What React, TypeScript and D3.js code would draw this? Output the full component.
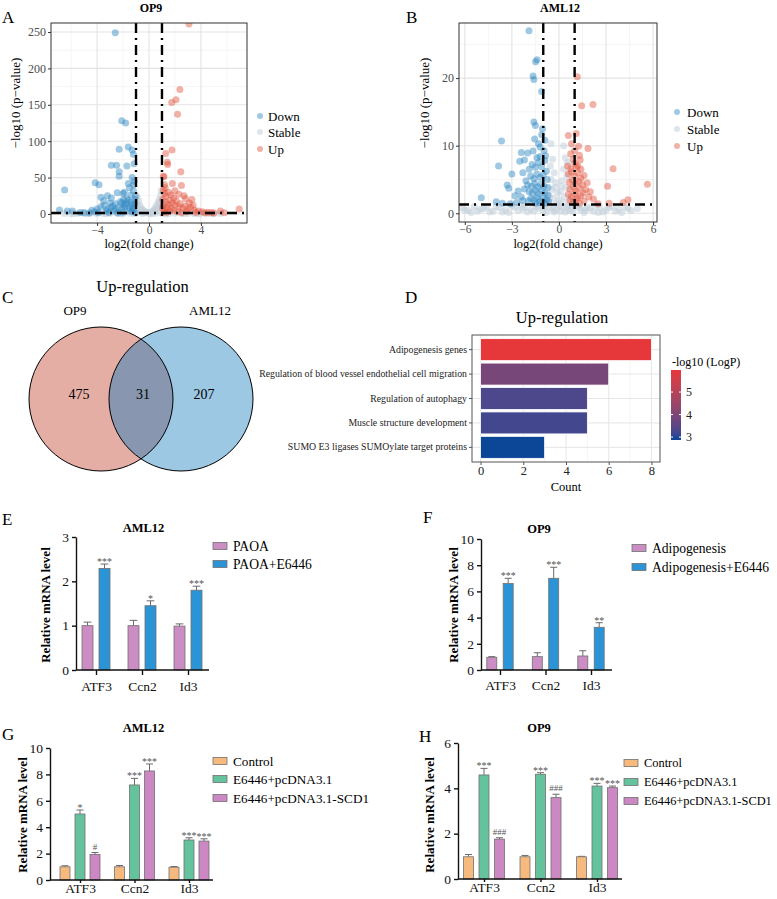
import React, { useEffect, useRef } from "react";
import * as d3 from "d3";

const FONT = "'Liberation Serif', 'Times New Roman', Times, serif";

// A: OP9 volcano points, [log2FC, -log10 p]
const op9Down = [
  [-2.6, 249], [-2.1, 128], [-1.8, 125], [-1.6, 92], [-2.3, 89], [-1.3, 88], [-1.2, 82], [-2.9, 67], [-2.5, 67],
  [-1.7, 66], [-1.15, 69], [-2.3, 58], [-2.3, 52], [-4.15, 43], [-3.85, 40], [-1.6, 42], [-1.2, 40], [-6.5, 33],
  [-2.45, 29], [-2.0, 28], [-3.2, 25], [-3.7, 23], [-2.9, 22], [-1.05, 24], [-1.2, 32], [-1.4, 26], [-1.7, 21],
  [-2.2, 17], [-3.0, 15], [-3.5, 18], [-2.6, 14], [-1.9, 12], [-3.7, 10], [-3.45, 12], [-2.95, 9], [-2.6, 6],
  [-2.1, 15], [-1.85, 10], [-1.6, 18], [-1.5, 8], [-1.35, 12], [-1.2, 6], [-1.1, 14], [-3.2, 6], [-4.2, 3],
  [-2.35, 9], [-1.95, 20], [-2.7, 4], [-1.3, 3], [-1.6, 4], [-2.0, 2.5], [-2.4, 1.5], [-3.9, 2], [-4.6, 1.5],
  [-6.9, 5.5], [-6.3, 4], [-5.9, 4], [-5.3, 2], [-5.0, 2], [-4.4, 5], [-4.0, 7], [-3.3, 4], [-2.8, 11], [-1.4, 16],
  [-1.1, 20], [-1.25, 9], [-1.75, 14], [-2.1, 7], [-3.1, 2], [-1.05, 2], [-1.9, 30], [-1.5, 36], [-1.15, 45], [-1.3, 50],
];
const op9Stable = [
  [-0.9, 24], [-0.8, 18], [-0.7, 12], [-0.6, 8], [-0.5, 6], [-0.4, 4], [-0.3, 3], [-0.2, 2], [-0.1, 1.5], [0, 1],
  [0.1, 1.5], [0.2, 2.5], [0.3, 4], [0.4, 6], [0.5, 9], [0.6, 12], [0.7, 16], [0.8, 20], [0.9, 26], [0.95, 32],
  [0.85, 14], [0.75, 9], [0.6, 5], [-0.85, 10], [-0.65, 5], [-0.95, 15], [0.5, 3], [-0.5, 2],
  [-6.5, 0.6], [-6, 0.4], [-5.5, 0.8], [-5, 0.5], [-4.5, 1], [-4, 0.3], [-3.5, 0.8], [-3, 0.5], [-2.5, 1], [-2, 0.4],
  [-1.5, 0.9], [-1, 0.5], [-0.5, 0.3], [0.5, 0.5], [1, 0.8], [1.5, 0.3], [2, 1], [2.5, 0.5], [3, 0.8], [3.5, 0.4],
  [4, 1], [4.5, 0.6], [5, 0.3], [5.5, 0.7], [-5.8, 0.2], [-4.8, 0.1], [-3.3, 0.2], [-2.2, 0.1], [-1.2, 0.2], [0.2, 0.1],
  [1.3, 0.1], [2.7, 0.2], [3.8, 0.1], [4.8, 0.2],
];
const op9Up = [
  [3.08, 261], [2.38, 171], [2.08, 157], [1.75, 153], [2.2, 137], [1.77, 88], [1.28, 83], [1.41, 71], [1.44, 68],
  [2.45, 58], [1.1, 52], [1.15, 51], [1.8, 42], [2.5, 39], [3.3, 20], [2.8, 21], [6.95, 7], [5.5, 4], [1.1, 33],
  [1.2, 28], [1.3, 24], [1.5, 30], [1.6, 19], [1.7, 26], [1.8, 15], [1.9, 22], [2.0, 12], [2.1, 18], [2.3, 10],
  [2.4, 14], [2.6, 8], [2.8, 11], [3.0, 6], [3.2, 9], [3.5, 5], [3.8, 4], [4.1, 3], [4.5, 2.5], [4.8, 2], [5.0, 1.5],
  [1.1, 12], [1.2, 6], [1.4, 9], [1.6, 4], [1.9, 5], [2.2, 3], [2.5, 2], [1.3, 16], [1.5, 13], [1.7, 8], [2.0, 32],
  [1.2, 40], [2.3, 27], [2.7, 25], [3.1, 15], [3.4, 12], [1.05, 20], [1.15, 3], [1.35, 2], [2.9, 3], [3.6, 2],
  [4.3, 1.5], [5.8, 1.8], [1.25, 36], [1.05, 8],
];

// B: AML12 volcano points
const amlDown = [
  [-1.91, 27], [-1.49, 22.4], [-1.4, 22.7], [-1.65, 20.3], [-1.6, 19.8], [-1.1, 18], [-1.6, 13.5], [-1.5, 13],
  [-1.1, 11.6], [-3.66, 10.7], [-2.4, 9], [-2.0, 8.9], [-1.65, 9.2], [-1.2, 8.4], [-3.85, 7.0], [-2.5, 7.7],
  [-2.2, 7.9], [-3.0, 5.8], [-2.3, 6.0], [-3.3, 4.2], [-3.2, 3.7], [-2.1, 4.8], [-4.95, 2.3], [-4.0, 1.7],
  [-3.1, 1.4], [-2.4, 2.4], [-2.3, 1.9], [-1.9, 6.5], [-1.7, 7.2], [-1.5, 6.8], [-1.3, 7.5], [-1.1, 6.9],
  [-0.9, 7.8], [-0.8, 6.2], [-1.8, 5.5], [-1.6, 5.1], [-1.4, 5.8], [-1.2, 5.3], [-1.0, 5.7], [-0.75, 5.0],
  [-2.0, 4.2], [-1.75, 4.0], [-1.55, 4.4], [-1.35, 3.9], [-1.15, 4.3], [-0.95, 4.0], [-0.7, 3.8], [-1.9, 3.2],
  [-1.7, 3.0], [-1.5, 3.4], [-1.3, 2.9], [-1.1, 3.3], [-0.9, 3.0], [-0.7, 2.7], [-1.8, 2.2], [-1.6, 2.0],
  [-1.4, 2.4], [-1.2, 1.9], [-1.0, 2.3], [-0.8, 2.0], [-0.65, 1.7], [-1.5, 1.5], [-1.25, 1.6], [-0.9, 1.5],
  [-1.3, 10.3], [-1.2, 9.8], [-0.95, 9.3], [-1.4, 8.2], [-0.85, 8.5], [-1.55, 11], [-1.05, 12.5], [-0.9, 10.8],
  [-2.6, 3.3], [-2.8, 2.6], [-2.2, 3.6], [-1.95, 1.8], [-3.6, 1.5], [-2.7, 1.6],
];
const amlStable = [
  [0.3, 10], [-0.5, 10.3], [-0.4, 8], [-0.3, 6], [-0.2, 4.5], [-0.1, 3], [0, 2], [0.1, 3.2], [0.2, 4.8], [0.3, 6.5],
  [0.4, 8.2], [-0.5, 5], [0.5, 5.5], [-0.45, 3.5], [0.45, 3.8], [-0.35, 2.2], [0.35, 2.4], [-0.55, 7], [0.55, 7.5],
  [-0.6, 2.5], [0.6, 1.2], [-6.2, 0.8], [-5.8, 0.4], [-5.4, 1.0], [-5.0, 0.6], [-4.6, 0.9], [-4.2, 0.3], [-3.8, 0.8],
  [-3.4, 0.5], [-3, 1.1], [-2.6, 0.4], [-2.2, 0.9], [-1.8, 0.6], [-1.4, 1.0], [-1, 0.3], [-0.6, 0.8], [-0.2, 0.5],
  [0.2, 0.9], [0.6, 0.4], [1, 1.0], [1.4, 0.5], [1.8, 0.9], [2.2, 0.3], [2.6, 0.8], [3, 0.5], [3.4, 1.0], [3.8, 0.6],
  [4.2, 0.9], [4.6, 0.4], [5, 0.7], [-5.6, 0.1], [-4.4, 0.2], [-3.2, 0.1], [-2.0, 0.2], [-0.8, 0.1], [0.4, 0.2],
  [1.6, 0.1], [2.8, 0.2], [4.0, 0.1], [-1.2, 1.2], [0, 1.1], [1.2, 1.2], [-2.4, 1.2], [2.4, 1.2], [-0.3, 0.2], [0.8, 0.6],
  [-5.2, 0.3], [-4.8, 0.7], [-4.0, 1.0], [-3.6, 0.2], [-2.8, 0.9], [-2.3, 0.6], [-1.6, 0.3], [-1.3, 0.7], [-0.9, 0.9],
  [-0.4, 0.6], [0.1, 0.3], [0.5, 0.9], [0.9, 0.2], [1.3, 0.8], [1.7, 0.5], [2.0, 0.7], [2.5, 0.1], [3.2, 0.8],
  [3.6, 0.3], [4.4, 0.7], [-0.7, 1.9], [0.7, 2.0], [-0.15, 1.4], [0.25, 1.6], [-0.25, 3.8], [0.15, 4.0], [-6.0, 0.5],
];
const amlUp = [
  [1.17, 20.2], [1.45, 15.9], [2.17, 16.1], [0.6, 11.5], [1.1, 11.8], [0.8, 10.3], [1.85, 9.6], [0.75, 8.8],
  [1.3, 8.6], [1.35, 7.9], [0.55, 7.0], [1.1, 6.9], [0.75, 6.6], [3.45, 6.6], [3.1, 4.0], [5.64, 4.3], [1.7, 3.5],
  [1.9, 2.4], [3.2, 1.5], [2.5, 1.4], [4.4, 2.0], [4.1, 1.6], [0.6, 5.8], [0.8, 6.1], [1.0, 5.5], [1.2, 6.0],
  [1.4, 5.2], [0.65, 4.6], [0.85, 4.9], [1.05, 4.4], [1.25, 4.7], [1.5, 4.2], [0.7, 3.6], [0.9, 3.9], [1.1, 3.3],
  [1.3, 3.7], [1.55, 3.0], [0.6, 2.8], [0.8, 2.5], [1.0, 2.9], [1.2, 2.3], [1.4, 2.6], [0.7, 1.9], [0.9, 1.6],
  [1.1, 2.0], [1.3, 1.5], [1.6, 1.8], [1.0, 7.4], [1.2, 7.0], [0.9, 8.0], [1.4, 6.5], [1.6, 5.6], [1.8, 4.5],
  [2.0, 3.2], [2.2, 2.1], [1.0, 9.3], [1.25, 9.9],
];

// C: Venn
const vennSets = ["OP9", "AML12"];
const vennCounts = [475, 31, 207];

// D: enrichment
const goTerms = [
  "Adipogenesis genes",
  "Regulation of blood vessel endothelial cell migration",
  "Regulation of autophagy",
  "Muscle structure development",
  "SUMO E3 ligases SUMOylate target proteins",
];
const goCount = [8, 6, 5, 5, 3];
const goLogP = [5.98, 3.9, 3.3, 3.2, 2.87];

// E-H: qPCR
const genes = ["ATF3", "Ccn2", "Id3"];
const eGroups = ["PAOA", "PAOA+E6446"];
const eMean = [[1.0, 2.29], [1.0, 1.45], [0.99, 1.8]];
const eErr = [[0.08, 0.1], [0.12, 0.11], [0.05, 0.09]];
const eSig = [["", "***"], ["", "*"], ["", "***"]];

const fGroups = ["Adipogenesis", "Adipogenesis+E6446"];
const fMean = [[0.97, 6.6], [1.02, 7.0], [1.07, 3.26]];
const fErr = [[0.05, 0.4], [0.3, 0.84], [0.4, 0.35]];
const fSig = [["", "***"], ["", "***"], ["", "**"]];

const ghGroups = ["Control", "E6446+pcDNA3.1", "E6446+pcDNA3.1-SCD1"];
const gMean = [[1.0, 5.0, 1.93], [1.0, 7.2, 8.26], [0.97, 3.03, 2.95]];
const gErr = [[0.08, 0.3, 0.15], [0.1, 0.5, 0.53], [0.05, 0.17, 0.17]];
const gSig = [["", "*", "#"], ["", "***", "***"], ["", "***", "***"]];

const hMean = [[0.98, 4.59, 1.76], [0.98, 4.62, 3.59], [0.98, 4.1, 4.03]];
const hErr = [[0.1, 0.29, 0.06], [0.06, 0.07, 0.15], [0.02, 0.12, 0.07]];
const hSig = [["", "***", "###"], ["", "***", "###"], ["", "***", "***"]];

function letter(svg, t, x, y) {
  svg.append("text").attr("x", x).attr("y", y).attr("font-size", 17).text(t);
}

function drawVolcano(svg, c) {
  const x = d3.scaleLinear().domain(c.xDomain).range([c.left, c.right]);
  const y = d3.scaleLinear().domain(c.yDomain).range([c.bottom, c.top]);
  const g = svg.append("g");
  const w = c.right - c.left, h = c.bottom - c.top;

  g.append("rect").attr("x", c.left).attr("y", c.top).attr("width", w).attr("height", h).attr("fill", "#fff");
  g.selectAll(".vmin").data(c.xMinor).join("line")
    .attr("x1", (d) => x(d)).attr("x2", (d) => x(d)).attr("y1", c.top).attr("y2", c.bottom)
    .attr("stroke", "#F2F2F2").attr("stroke-width", 0.8);
  g.selectAll(".hmin").data(c.yMinor).join("line")
    .attr("y1", (d) => y(d)).attr("y2", (d) => y(d)).attr("x1", c.left).attr("x2", c.right)
    .attr("stroke", "#F2F2F2").attr("stroke-width", 0.8);
  g.selectAll(".vmaj").data(c.xTicks).join("line")
    .attr("x1", (d) => x(d)).attr("x2", (d) => x(d)).attr("y1", c.top).attr("y2", c.bottom)
    .attr("stroke", "#E3E3E3").attr("stroke-width", 1.1);
  g.selectAll(".hmaj").data(c.yTicks).join("line")
    .attr("y1", (d) => y(d)).attr("y2", (d) => y(d)).attr("x1", c.left).attr("x2", c.right)
    .attr("stroke", "#E3E3E3").attr("stroke-width", 1.1);

  g.append("clipPath").attr("id", c.id).append("rect")
    .attr("x", c.left).attr("y", c.top).attr("width", w).attr("height", h);
  const pts = g.append("g").attr("clip-path", `url(#${c.id})`);
  const layers = [
    [c.stable, "#C3CFDA", 0.55],
    [c.down, "#2A84C2", 0.45],
    [c.up, "#E0513C", 0.45],
  ];
  layers.forEach(([data, col, op]) => {
    pts.append("g").selectAll("circle").data(data).join("circle")
      .attr("cx", (d) => x(d[0])).attr("cy", (d) => y(d[1])).attr("r", 3.5)
      .attr("fill", col).attr("fill-opacity", op);
  });

  const dash = "10,5,2,5";
  [-1, 1].forEach((v) => {
    pts.append("line").attr("x1", x(v)).attr("x2", x(v)).attr("y1", c.top).attr("y2", c.bottom)
      .attr("stroke", "#000").attr("stroke-width", 2.4).attr("stroke-dasharray", dash);
  });
  pts.append("line").attr("x1", c.left).attr("x2", c.right).attr("y1", y(c.hline)).attr("y2", y(c.hline))
    .attr("stroke", "#000").attr("stroke-width", 2.4).attr("stroke-dasharray", dash);

  g.append("rect").attr("x", c.left).attr("y", c.top).attr("width", w).attr("height", h)
    .attr("fill", "none").attr("stroke", "#333").attr("stroke-width", 1);

  const xa = g.append("g").attr("transform", `translate(0,${c.bottom})`)
    .call(d3.axisBottom(x).tickValues(c.xTicks).tickSize(3).tickPadding(0).tickSizeOuter(0)
      .tickFormat((d) => d3.format("d")(d).replace("-", "−")));
  const ya = g.append("g").attr("transform", `translate(${c.left},0)`)
    .call(d3.axisLeft(y).tickValues(c.yTicks).tickSize(3).tickPadding(2).tickSizeOuter(0));
  [xa, ya].forEach((a) => {
    a.select(".domain").remove();
    a.selectAll("line").attr("stroke", "#333");
    a.selectAll("text").attr("font-family", FONT).attr("font-size", 12).attr("fill", "#4D4D4D");
  });
  xa.selectAll("text").attr("font-size", 11.5).attr("dy", "0.72em");

  svg.append("text").attr("x", c.titleX).attr("y", 12).attr("text-anchor", "middle")
    .attr("font-weight", "bold").attr("font-size", 12).text(c.title);
  svg.append("text").attr("x", (c.left + c.right) / 2).attr("y", 248).attr("text-anchor", "middle")
    .attr("font-size", 12.5).text("log2(fold change)");
  svg.append("text").attr("transform", `translate(${c.yTitleX},103) rotate(-90)`)
    .attr("text-anchor", "middle").attr("dominant-baseline", "central").attr("font-size", 13).text("−log10 (p−value)");

  const legend = [["Down", "#2A84C2", 0.45], ["Stable", "#C3CFDA", 0.55], ["Up", "#E0513C", 0.45]];
  legend.forEach(([lab, col, op], i) => {
    svg.append("circle").attr("cx", c.legendX).attr("cy", c.legendY[i]).attr("r", 3)
      .attr("fill", col).attr("fill-opacity", op);
    svg.append("text").attr("x", c.legendTextX).attr("y", c.legendY[i]).attr("dy", "0.35em")
      .attr("font-size", 13).text(lab);
  });
}

function drawVenn(svg) {
  const r = 72, cy = 399;
  const cx = [101, 181];
  const g = svg.append("g");
  g.append("clipPath").attr("id", "vennL").append("circle").attr("cx", cx[0]).attr("cy", cy).attr("r", r);
  g.append("circle").attr("cx", cx[0]).attr("cy", cy).attr("r", r).attr("fill", "#E5AEA5");
  g.append("circle").attr("cx", cx[1]).attr("cy", cy).attr("r", r).attr("fill", "#9CC8E4");
  g.append("circle").attr("cx", cx[1]).attr("cy", cy).attr("r", r).attr("fill", "#8897AF").attr("clip-path", "url(#vennL)");
  cx.forEach((c) => g.append("circle").attr("cx", c).attr("cy", cy).attr("r", r)
    .attr("fill", "none").attr("stroke", "#000").attr("stroke-width", 1));
  g.append("text").attr("x", 142.5).attr("y", 292).attr("text-anchor", "middle").attr("font-size", 16.5).text("Up-regulation");
  [75, 210].forEach((x, i) => g.append("text").attr("x", x).attr("y", 315).attr("text-anchor", "middle")
    .attr("font-size", 13).text(vennSets[i]));
  [79, 143, 204].forEach((x, i) => g.append("text").attr("x", x).attr("y", 399).attr("text-anchor", "middle")
    .attr("font-size", 14).text(vennCounts[i]));
}

function drawEnrich(svg) {
  const left = 472, right = 660, top = 335, bottom = 462;
  const x = d3.scaleLinear().domain([-0.4, 8.4]).range([left, right]);
  const y = d3.scaleBand().domain(goTerms).range([top, bottom]).paddingInner(0.1).paddingOuter(0.15);
  const lo = d3.min(goLogP), hi = d3.max(goLogP);
  const color = d3.scaleLinear().domain([lo, hi]).range(["#0C4697", "#E6373B"]).interpolate(d3.interpolateLab);
  const g = svg.append("g");

  g.selectAll(".min").data([1, 3, 5, 7]).join("line")
    .attr("x1", (d) => x(d)).attr("x2", (d) => x(d)).attr("y1", top).attr("y2", bottom)
    .attr("stroke", "#F3F3F3").attr("stroke-width", 0.8);
  g.selectAll(".maj").data([0, 2, 4, 6, 8]).join("line")
    .attr("x1", (d) => x(d)).attr("x2", (d) => x(d)).attr("y1", top).attr("y2", bottom)
    .attr("stroke", "#E6E6E6").attr("stroke-width", 1);
  g.selectAll(".hg").data(goTerms).join("line")
    .attr("y1", (d) => y(d) + y.bandwidth() / 2).attr("y2", (d) => y(d) + y.bandwidth() / 2)
    .attr("x1", left).attr("x2", right).attr("stroke", "#E6E6E6").attr("stroke-width", 1);

  g.selectAll(".bar").data(goTerms).join("rect")
    .attr("x", x(0)).attr("y", (d) => y(d)).attr("height", y.bandwidth())
    .attr("width", (d, i) => x(goCount[i]) - x(0))
    .attr("fill", (d, i) => color(goLogP[i])).attr("stroke", "#fff").attr("stroke-width", 0.8);

  g.append("rect").attr("x", left).attr("y", top).attr("width", right - left).attr("height", bottom - top)
    .attr("fill", "none").attr("stroke", "#555").attr("stroke-width", 1);

  const xa = g.append("g").attr("transform", `translate(0,${bottom})`)
    .call(d3.axisBottom(x).tickValues([0, 2, 4, 6, 8]).tickSize(3).tickPadding(1).tickSizeOuter(0));
  const ya = g.append("g").attr("transform", `translate(${left},0)`)
    .call(d3.axisLeft(y).tickSize(3).tickSizeOuter(0));
  [xa, ya].forEach((a) => {
    a.select(".domain").remove();
    a.selectAll("line").attr("stroke", "#555");
    a.selectAll("text").attr("font-family", FONT).attr("fill", "#222");
  });
  xa.selectAll("text").attr("font-size", 12.5).attr("dy", "0.71em");
  ya.selectAll("text").attr("font-size", 9.8).attr("x", -5);

  g.append("text").attr("x", 562).attr("y", 323).attr("text-anchor", "middle").attr("font-size", 16.5).text("Up-regulation");
  g.append("text").attr("x", 566).attr("y", 491).attr("text-anchor", "middle").attr("font-size", 12.5).text("Count");

  // colourbar
  const cbTop = 370, cbBot = 440, cbX = 671, cbW = 10;
  const cb = d3.scaleLinear().domain([lo, hi]).range([cbBot, cbTop]);
  const grad = g.append("defs").append("linearGradient").attr("id", "cbGrad")
    .attr("x1", 0).attr("x2", 0).attr("y1", 1).attr("y2", 0);
  d3.range(0, 1.001, 0.1).forEach((t) => {
    grad.append("stop").attr("offset", t).attr("stop-color", color(lo + t * (hi - lo)));
  });
  g.append("rect").attr("x", cbX).attr("y", cbTop).attr("width", cbW).attr("height", cbBot - cbTop).attr("fill", "url(#cbGrad)");
  [3, 4, 5].forEach((v) => {
    g.append("line").attr("x1", cbX).attr("x2", cbX + 2).attr("y1", cb(v)).attr("y2", cb(v)).attr("stroke", "#fff");
    g.append("line").attr("x1", cbX + cbW - 2).attr("x2", cbX + cbW).attr("y1", cb(v)).attr("y2", cb(v)).attr("stroke", "#fff");
    g.append("text").attr("x", cbX + cbW + 5).attr("y", cb(v)).attr("dy", "0.35em").attr("font-size", 12).attr("fill", "#222").text(v);
  });
  g.append("text").attr("x", 672).attr("y", 366).attr("font-size", 12).text("-log10 (LogP)");
}

function drawBars(svg, c) {
  const x = d3.scalePoint().domain(genes).range(c.centers);
  const xi = d3.scalePoint().domain(c.groups).range([-c.off, c.off]);
  const y = d3.scaleLinear().domain([0, c.yMax]).range([c.bottom, c.top]);
  const g = svg.append("g");
  const rows = genes.flatMap((gene, gi) => c.groups.map((grp, k) => ({
    gene, grp, k, mean: c.mean[gi][k], err: c.err[gi][k], sig: c.sig[gi][k],
  })));
  const cx = (d) => x(d.gene) + xi(d.grp);

  g.selectAll(".eb").data(rows).join("line")
    .attr("x1", cx).attr("x2", cx).attr("y1", (d) => y(d.mean)).attr("y2", (d) => y(d.mean + d.err))
    .attr("stroke", "#6A6A6A").attr("stroke-width", 1);
  g.selectAll(".cap").data(rows).join("line")
    .attr("x1", (d) => cx(d) - c.bw * 0.35).attr("x2", (d) => cx(d) + c.bw * 0.35)
    .attr("y1", (d) => y(d.mean + d.err)).attr("y2", (d) => y(d.mean + d.err))
    .attr("stroke", "#6A6A6A").attr("stroke-width", 1);
  g.selectAll(".bar").data(rows).join("rect")
    .attr("x", (d) => cx(d) - c.bw / 2).attr("width", c.bw)
    .attr("y", (d) => y(d.mean)).attr("height", (d) => y(0) - y(d.mean))
    .attr("fill", (d) => c.colors[d.k]).attr("stroke", "#707070").attr("stroke-width", 0.8);
  g.selectAll(".sig").data(rows.filter((d) => d.sig)).join("text")
    .attr("x", cx).attr("y", (d) => y(d.mean + d.err) + (d.sig.startsWith("#") ? -3 : 1))
    .attr("text-anchor", "middle").attr("font-size", (d) => (d.sig.startsWith("#") ? 9 : 10))
    .attr("fill", "#555").text((d) => d.sig);

  const xa = g.append("g").attr("transform", `translate(0,${c.bottom})`)
    .call(d3.axisBottom(x).tickSize(c.xTick).tickPadding(c.xPad).tickSizeOuter(0));
  xa.select(".domain").attr("d", `M${c.left},0H${c.right}`);
  const ya = g.append("g").attr("transform", `translate(${c.left},0)`)
    .call(d3.axisLeft(y).tickValues(c.yTicks).tickSize(4).tickSizeOuter(0).tickFormat(d3.format("d")));
  [xa, ya].forEach((a) => {
    a.select(".domain").attr("stroke", "#111").attr("stroke-width", 1.4);
    a.selectAll(".tick line").attr("stroke", "#111").attr("stroke-width", 1.4);
    a.selectAll("text").attr("font-family", FONT).attr("font-size", 13.5).attr("fill", "#111");
  });
  xa.selectAll("text").attr("dy", "0.71em");

  g.append("text").attr("x", c.titleX).attr("y", c.titleY).attr("text-anchor", "middle")
    .attr("font-weight", "bold").attr("font-size", 12.5).text(c.title);
  g.append("text").attr("transform", `translate(${c.yTitleX},${c.yTitleY}) rotate(-90)`)
    .attr("text-anchor", "middle").attr("dominant-baseline", "central")
    .attr("font-weight", "bold").attr("font-size", 13).text("Relative mRNA level");

  c.groups.forEach((grp, k) => {
    g.append("rect").attr("x", c.legendX).attr("y", c.legendY[k] - 3.5).attr("width", 14).attr("height", 7)
      .attr("fill", c.colors[k]).attr("stroke", "#707070").attr("stroke-width", 0.8);
    g.append("text").attr("x", c.legendX + 20).attr("y", c.legendY[k]).attr("dy", "0.35em")
      .attr("font-size", c.legendSize || 13.6).text(grp);
  });
}

export default function App() {
  const ref = useRef<SVGSVGElement>(null);

  useEffect(() => {
    const svg = d3.select(ref.current);
    svg.selectAll("*").remove();

    letter(svg, "A", 2, 23);
    letter(svg, "B", 406, 23);
    letter(svg, "C", 2, 303);
    letter(svg, "D", 405, 303);
    letter(svg, "E", 2, 525);
    letter(svg, "F", 423, 523);
    letter(svg, "G", 2, 740);
    letter(svg, "H", 419, 742);

    drawVolcano(svg, {
      id: "clipA", left: 51, right: 247, top: 23, bottom: 223,
      xDomain: [-7.55, 7.55], yDomain: [-12.4, 262.4],
      xTicks: [-4, 0, 4], xMinor: [-6, -2, 2, 6], yTicks: [0, 50, 100, 150, 200, 250], yMinor: [25, 75, 125, 175, 225],
      down: op9Down, stable: op9Stable, up: op9Up, hline: 1.3,
      title: "OP9", titleX: 151, yTitleX: 15,
      legendX: 260, legendTextX: 268, legendY: [116, 132, 149],
    });
    drawVolcano(svg, {
      id: "clipB", left: 459, right: 657, top: 23, bottom: 222,
      xDomain: [-6.37, 6.25], yDomain: [-1.29, 28.15],
      xTicks: [-6, -3, 0, 3, 6], xMinor: [-4.5, -1.5, 1.5, 4.5], yTicks: [0, 10, 20], yMinor: [5, 15, 25],
      down: amlDown, stable: amlStable, up: amlUp, hline: 1.3,
      title: "AML12", titleX: 560, yTitleX: 424,
      legendX: 677, legendTextX: 687, legendY: [112, 129, 146],
    });

    drawVenn(svg);
    drawEnrich(svg);

    drawBars(svg, {
      left: 76, right: 209, top: 537, bottom: 670, yMax: 3, yTicks: [0, 1, 2, 3],
      centers: [96, 188], off: 8.5, bw: 11, groups: eGroups, mean: eMean, err: eErr, sig: eSig,
      colors: ["#CB8DC3", "#2B94D6"], title: "AML12", titleX: 143.5, titleY: 532, yTitleX: 45, yTitleY: 605,
      xTick: 5, xPad: 6, legendX: 213, legendY: [546, 564],
    });
    drawBars(svg, {
      left: 481, right: 612, top: 539, bottom: 670, yMax: 10, yTicks: [0, 2, 4, 6, 8, 10],
      centers: [500, 591], off: 8.2, bw: 10, groups: fGroups, mean: fMean, err: fErr, sig: fSig,
      colors: ["#CB8DC3", "#2B94D6"], title: "OP9", titleX: 539, titleY: 533, yTitleX: 453, yTitleY: 605,
      xTick: 5, xPad: 5, legendX: 632, legendY: [548, 567],
    });
    drawBars(svg, {
      left: 50, right: 213, top: 748, bottom: 880, yMax: 10, yTicks: [0, 2, 4, 6, 8, 10],
      centers: [80, 189], off: 15, bw: 10, groups: ghGroups, mean: gMean, err: gErr, sig: gSig,
      colors: ["#F7BA7E", "#64C29C", "#CB88C2"], title: "AML12", titleX: 143.5, titleY: 732, yTitleX: 22, yTitleY: 815,
      xTick: 3, xPad: 0, legendX: 213, legendY: [761, 779, 798], legendSize: 13.2,
    });
    drawBars(svg, {
      left: 458, right: 622, top: 743, bottom: 879, yMax: 6, yTicks: [0, 2, 4, 6],
      centers: [484, 597], off: 15.5, bw: 10, groups: ghGroups, mean: hMean, err: hErr, sig: hSig,
      colors: ["#F7BA7E", "#64C29C", "#CB88C2"], title: "OP9", titleX: 539, titleY: 732, yTitleX: 429, yTitleY: 815,
      xTick: 3, xPad: 0, legendX: 624, legendY: [763, 782, 801], legendSize: 12.4,
    });
  }, []);

  return (
    <svg
      ref={ref}
      width={777}
      height={899}
      fontFamily={FONT}
      style={{ position: "absolute", left: 0, top: 0, background: "#fff" }}
    />
  );
}
